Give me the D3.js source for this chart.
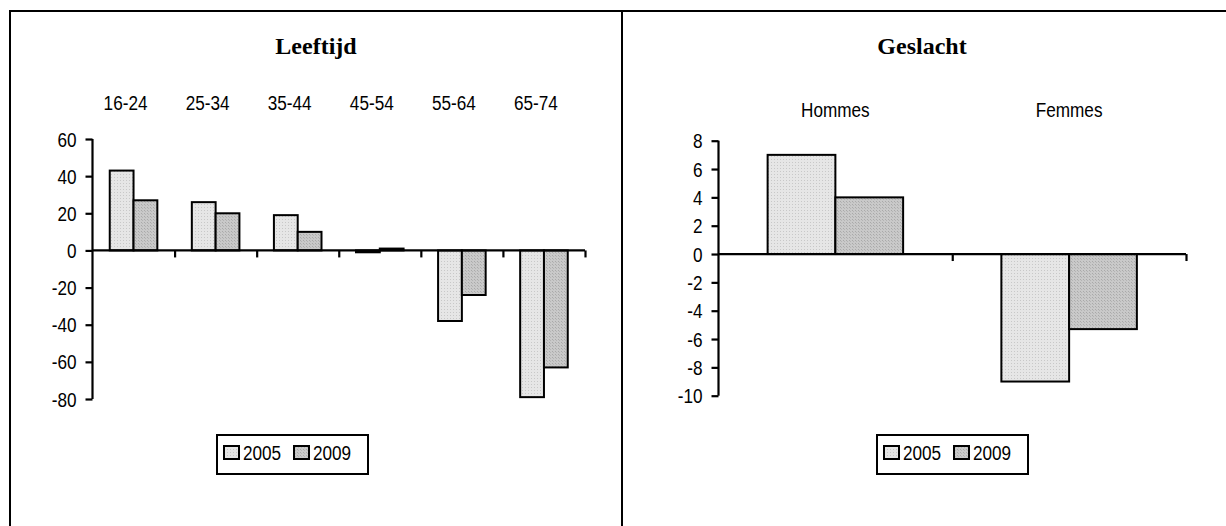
<!DOCTYPE html>
<html>
<head>
<meta charset="utf-8">
<script src="https://cdn.jsdelivr.net/npm/d3@7"></script>
<style>
  html, body { margin: 0; padding: 0; background: #fff; }
  svg { display: block; }
  .tick text, .cat, .leg { font-family: "Liberation Sans", Arial, sans-serif; fill: #000; }
  .ttl { font-family: "Liberation Serif", "Times New Roman", serif; font-weight: bold; font-size: 24px; }
</style>
</head>
<body>
<svg id="chart" width="1226" height="526"></svg>
<script>
// Age groups
const ageGroups = ["16-24", "25-34", "35-44", "45-54", "55-64", "65-74"];
const age2005 = [43, 26, 19, -1, -38, -79];
const age2009 = [27, 20, 10, 1, -24, -63];
const ageTicks = [60, 40, 20, 0, -20, -40, -60, -80];

// Gender
const genders = ["Hommes", "Femmes"];
const gender2005 = [7, -9];
const gender2009 = [4, -5.3];
const genderTicks = [8, 6, 4, 2, 0, -2, -4, -6, -8, -10];

const years = ["2005", "2009"];

// Narrow sans look: regular sans squeezed horizontally
const NARROW = 0.88;
const FONT = 19.5;

const svg = d3.select("#chart");

// Fill patterns for the two series
const defs = svg.append("defs");
const p1 = defs.append("pattern").attr("id", "fill2005")
  .attr("patternUnits", "userSpaceOnUse").attr("width", 3).attr("height", 3);
p1.append("rect").attr("width", 3).attr("height", 3).attr("fill", "#e6e6e6");
p1.append("rect").attr("x", 0).attr("y", 0).attr("width", 1).attr("height", 1).attr("fill", "#c8c8c8");
const p2 = defs.append("pattern").attr("id", "fill2009")
  .attr("patternUnits", "userSpaceOnUse").attr("width", 3).attr("height", 3);
p2.append("rect").attr("width", 3).attr("height", 3).attr("fill", "#c9c9c9");
p2.append("rect").attr("x", 0).attr("y", 0).attr("width", 1).attr("height", 1).attr("fill", "#a9a9a9");
p2.append("rect").attr("x", 1).attr("y", 1).attr("width", 1).attr("height", 1).attr("fill", "#b4b4b4");
const fills = { "2005": "url(#fill2005)", "2009": "url(#fill2009)" };

// Outer frame
const frame = svg.append("g").attr("stroke", "#000").attr("stroke-width", 2);
frame.append("line").attr("x1", 9).attr("x2", 1226).attr("y1", 11).attr("y2", 11);
frame.append("line").attr("x1", 10).attr("x2", 10).attr("y1", 10).attr("y2", 526);
frame.append("line").attr("x1", 622).attr("x2", 622).attr("y1", 10).attr("y2", 526);

function narrowText(sel, x, y) {
  return sel.attr("x", 0).attr("y", 0)
    .attr("transform", `translate(${x},${y}) scale(${NARROW},1)`)
    .attr("font-size", FONT);
}

function drawPanel(cfg) {
  const g = svg.append("g");
  const x0 = d3.scaleBand().domain(cfg.cats).range([cfg.left, cfg.right]).padding(0);
  const x1 = d3.scaleBand().domain(years).range([0, x0.bandwidth()]).paddingInner(0).paddingOuter(0.725);
  const y = d3.scaleLinear().domain(cfg.domain).range(cfg.range);

  g.append("text").attr("class", "ttl")
    .attr("x", cfg.titleX).attr("y", 54).attr("text-anchor", "middle").text(cfg.title);

  const series = years.map((yr, i) => ({ year: yr, values: cfg.values[i] }));

  // Bars
  series.forEach(s => {
    g.append("g").selectAll("rect").data(cfg.cats).join("rect")
      .attr("x", (c) => x0(c) + x1(s.year))
      .attr("width", x1.bandwidth())
      .attr("y", (c, i) => y(Math.max(0, s.values[i])))
      .attr("height", (c, i) => Math.abs(y(s.values[i]) - y(0)))
      .attr("fill", fills[s.year])
      .attr("stroke", "#000").attr("stroke-width", 2);
  });

  // Value axis
  const yAxis = g.append("g").attr("transform", `translate(${cfg.left},0)`)
    .call(d3.axisLeft(y).tickValues(cfg.ticks).tickSize(7).tickPadding(8).tickFormat(d => String(d)));
  yAxis.selectAll("path, line").attr("stroke", "#000").attr("stroke-width", 2.2);
  yAxis.select(".domain").attr("d", `M0,${cfg.range[0]}V${cfg.range[1]}`);
  yAxis.selectAll(".tick text").each(function () {
    narrowText(d3.select(this), -16, 0).attr("dy", "0.36em");
  });

  // Zero line with category boundary ticks
  const bounds = cfg.cats.map(c => x0(c) + x0.bandwidth());
  const zx = g.append("g").attr("transform", `translate(0,${y(0)})`)
    .call(d3.axisBottom(d3.scaleLinear().domain([cfg.left, cfg.right]).range([cfg.left, cfg.right]))
      .tickValues(bounds).tickSize(7).tickFormat(""));
  zx.selectAll("path, line").attr("stroke", "#000").attr("stroke-width", 2.2);
  zx.select(".domain").attr("d", `M${cfg.left},0H${cfg.right}`);

  // Category labels on top
  g.append("g").selectAll("text").data(cfg.cats).join("text")
    .attr("class", "cat")
    .attr("text-anchor", "middle")
    .each(function (c) {
      narrowText(d3.select(this), x0(c) + x0.bandwidth() / 2 + cfg.labelShift, cfg.labelY);
    })
    .text(c => c);

  // Legend
  const lg = g.append("g").attr("transform", `translate(${cfg.legendX},435)`);
  lg.append("rect").attr("width", 151).attr("height", 39)
    .attr("fill", "#fff").attr("stroke", "#000").attr("stroke-width", 2);
  years.forEach((yr, i) => {
    const item = lg.append("g").attr("transform", `translate(${7 + i * 70},11)`);
    item.append("rect").attr("width", 15).attr("height", 13)
      .attr("fill", fills[yr]).attr("stroke", "#000").attr("stroke-width", 2);
    narrowText(item.append("text").attr("class", "leg"), 19, 14).text(yr);
  });
}

drawPanel({
  title: "Leeftijd", titleX: 316,
  cats: ageGroups, values: [age2005, age2009],
  left: 92.5, right: 585, domain: [-80, 60], range: [399, 139], ticks: ageTicks,
  labelY: 110, labelShift: -8, legendX: 217
});

drawPanel({
  title: "Geslacht", titleX: 922,
  cats: genders, values: [gender2005, gender2009],
  left: 718.5, right: 1186, domain: [-10, 8], range: [395.7, 140.7], ticks: genderTicks,
  labelY: 117, labelShift: 0, legendX: 877
});
</script>
</body>
</html>
